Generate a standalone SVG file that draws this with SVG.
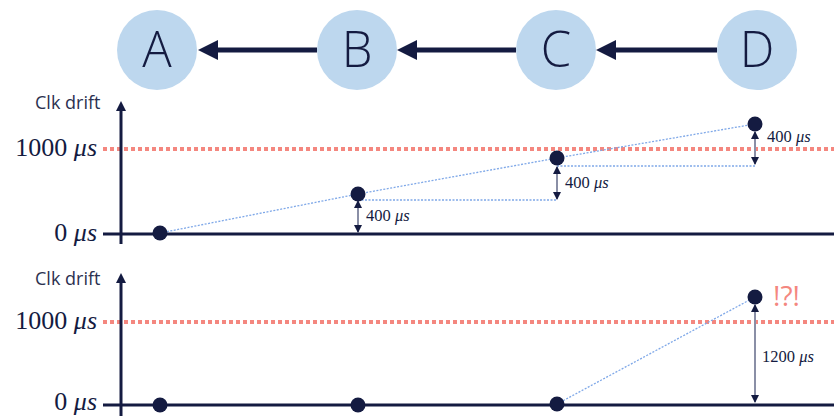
<svg xmlns="http://www.w3.org/2000/svg" width="834" height="416" viewBox="0 0 834 416">
<style>
.node{fill:#BDD7EE}
.lbl{font-family:"Open Sans","Noto Sans",sans-serif;font-weight:300;font-size:49px;fill:#141B41;text-anchor:middle}
.conn{stroke:#141B41;stroke-width:5;fill:none}
.axis{stroke:#141B41;stroke-width:3;fill:none}
.ref{stroke:#F4877F;stroke-width:4;stroke-dasharray:4 3;fill:none}
.dot{fill:#141B41}
.trend{stroke:#7FA8E8;stroke-width:1.3;stroke-dasharray:2 1.5;fill:none}
.meas{stroke:#8A8FA6;stroke-width:2;fill:none}
.ylab{font-family:"Open Sans","Noto Sans",sans-serif;font-size:18px;fill:#2B3150}
.tick{font-family:"Liberation Serif",serif;font-size:26px;fill:#141B41;text-anchor:end}
.small{font-family:"Liberation Serif",serif;font-size:16.5px;fill:#141B41}
.it{font-style:italic}
.alert{font-family:"Open Sans","Noto Sans",sans-serif;font-size:28px;fill:#F4877F}
</style>
<defs>
<marker id="ah" viewBox="0 0 20 20" refX="0" refY="10" markerWidth="20" markerHeight="20" markerUnits="userSpaceOnUse" orient="auto">
<path d="M0,0 L20,10 L0,20 z" fill="#141B41"/>
</marker>
<marker id="sh" viewBox="0 0 8 8" refX="7" refY="4" markerWidth="8" markerHeight="8" markerUnits="userSpaceOnUse" orient="auto-start-reverse">
<path d="M0,0 L8,4 L0,8 z" fill="#141B41"/>
</marker>
<marker id="yh" viewBox="0 0 10 10" refX="0" refY="5" markerWidth="10" markerHeight="10" markerUnits="userSpaceOnUse" orient="auto">
<path d="M0,0 L10,5 L0,10 z" fill="#141B41"/>
</marker>
</defs>

<g id="connectors">
<line class="conn" x1="317" y1="50" x2="218" y2="50" marker-end="url(#ah)"/>
<line class="conn" x1="516" y1="50" x2="417" y2="50" marker-end="url(#ah)"/>
<line class="conn" x1="717" y1="50" x2="616" y2="50" marker-end="url(#ah)"/>
</g>
<g id="node-A"><circle class="node" cx="157" cy="50" r="40"/><text class="lbl" x="157" y="67">A</text></g>
<g id="node-B"><circle class="node" cx="357" cy="50" r="40"/><text class="lbl" x="357" y="67">B</text></g>
<g id="node-C"><circle class="node" cx="556" cy="50" r="40"/><text class="lbl" x="556" y="67">C</text></g>
<g id="node-D"><circle class="node" cx="757" cy="50" r="40"/><text class="lbl" x="757" y="67">D</text></g>

<g id="chart-top">
<line class="ref" x1="103" y1="149" x2="834" y2="149"/>
<line class="axis" x1="103" y1="234" x2="834" y2="234"/>
<line class="axis" x1="121" y1="244" x2="121" y2="111" marker-end="url(#yh)"/>
<text class="ylab" x="35" y="109">Clk drift</text>
<text class="tick" x="97" y="156">1000 <tspan class="it">μs</tspan></text>
<text class="tick" x="97" y="241">0 <tspan class="it">μs</tspan></text>
<polyline class="trend" points="160,233 358,194 557,158 755,124"/>
<line class="trend" x1="358" y1="200" x2="557" y2="200"/>
<line class="trend" x1="557" y1="166" x2="755" y2="166"/>
<line class="meas" x1="358" y1="201" x2="358" y2="232" marker-start="url(#sh)" marker-end="url(#sh)"/>
<line class="meas" x1="557" y1="167" x2="557" y2="199" marker-start="url(#sh)" marker-end="url(#sh)"/>
<line class="meas" x1="755" y1="132" x2="755" y2="164" marker-start="url(#sh)" marker-end="url(#sh)"/>
<text class="small" x="366" y="221">400 <tspan class="it">μs</tspan></text>
<text class="small" x="565" y="188">400 <tspan class="it">μs</tspan></text>
<text class="small" x="767" y="142">400 <tspan class="it">μs</tspan></text>
<circle class="dot" cx="160" cy="233" r="7.5"/>
<circle class="dot" cx="358" cy="194" r="7.5"/>
<circle class="dot" cx="557" cy="158" r="7.5"/>
<circle class="dot" cx="755" cy="124" r="7.5"/>
</g>

<g id="chart-bottom">
<line class="ref" x1="103" y1="322" x2="834" y2="322"/>
<line class="axis" x1="103" y1="405" x2="834" y2="405"/>
<line class="axis" x1="121" y1="416" x2="121" y2="283" marker-end="url(#yh)"/>
<text class="ylab" x="35" y="285">Clk drift</text>
<text class="tick" x="97" y="329">1000 <tspan class="it">μs</tspan></text>
<text class="tick" x="97" y="410">0 <tspan class="it">μs</tspan></text>
<line class="trend" x1="557" y1="404" x2="755" y2="297"/>
<line class="meas" x1="755" y1="305" x2="755" y2="402" marker-start="url(#sh)" marker-end="url(#sh)"/>
<text class="small" x="762" y="362">1200 <tspan class="it">μs</tspan></text>
<text class="alert" x="773" y="306">!?!</text>
<circle class="dot" cx="160" cy="405" r="7.5"/>
<circle class="dot" cx="358" cy="405" r="7.5"/>
<circle class="dot" cx="557" cy="404" r="7.5"/>
<circle class="dot" cx="755" cy="297" r="7.5"/>
</g>
</svg>
